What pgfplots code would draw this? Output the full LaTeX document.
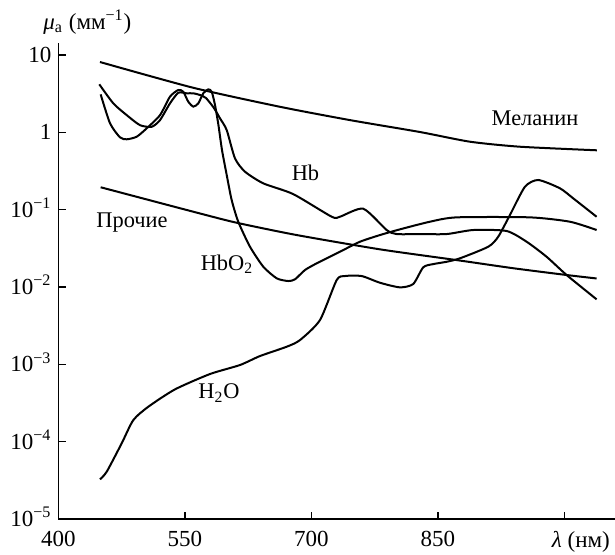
\documentclass[border=0pt]{standalone}
\usepackage{pgfplots}
\pgfplotsset{compat=1.18}
\usepackage{fontspec}
\setmainfont{Liberation Serif}
\pgfplotsset{curve/.style={black, line width=1pt, smooth, tension=0.4, mark=none}}
\tikzset{lbl/.style={font=\rmfamily\fontsize{11.2}{13}\selectfont, inner sep=0pt}}

\begin{document}
\begin{tikzpicture}
\begin{axis}[
  name=ax,
  at={(0,0)}, anchor=south west,
  scale only axis, width=278.25pt, height=238pt,
  xmin=400, xmax=1060,
  ymode=log, ymin=1e-5, ymax=14.3,
  axis lines*=left,
  axis line style={-, line width=0.8pt},
  tick align=inside,
  major tick length=3.75pt,
  tick style={line width=0.8pt, black},
  xtick={400,550,700,850,1000},
  xticklabels={400,550,700,850,\makebox[0pt][l]{\hspace*{-6.25pt}\textit{λ}~(нм)}},
  ytick={1e-5,1e-4,1e-3,1e-2,1e-1,1,10},
  yticklabels={10\textsuperscript{−5},10\textsuperscript{−4},10\textsuperscript{−3},10\textsuperscript{−2},10\textsuperscript{−1},1,10},
  yminorticks=false,
  /pgf/number format/assume math mode=true,
  ticklabel style={font=\rmfamily\fontsize{11.5}{13}\selectfont},
  xticklabel style={yshift=-2.5pt},
  yticklabel style={text height=7.6pt, text depth=0pt},
  clip=false,
]
% Melanin
\addplot[curve] coordinates {(449.2,8.12) (559.5,3.78) (662.7,2.14) (745.7,1.44) (828.7,1.01) (888,0.757) (947.2,0.652) (1038.6,0.586)};
% Others
\addplot[curve] coordinates {(450,0.195) (559.9,0.0941) (611.3,0.0678) (682.5,0.047) (781.3,0.0307) (872.2,0.0223) (939.3,0.0175) (1002.6,0.0143) (1038.2,0.0129)};
% Hb
\addplot[curve] coordinates {(448.4,4.18) (465.0,2.37) (480.9,1.67) (496.6,1.24) (510.5,1.18) (520.4,1.44) (532.2,2.37) (542.1,3.25) (552,3.20) (559.9,3.20) (567.8,3.04) (574.9,2.78) (584.4,2.06) (591.5,1.52) (599.5,1.07) (609.3,0.461) (621.2,0.310) (642.9,0.219) (678.4,0.159) (724,0.0811) (733.8,0.0811) (761.4,0.1029) (789.2,0.0546) (801.1,0.0484) (828.7,0.0484) (860.3,0.0484) (891.9,0.0546) (931.5,0.053) (955.2,0.0385) (978.9,0.0246) (1002.6,0.0143) (1038.2,0.00693)};
% HbO2
\addplot[curve] coordinates {(450.0,3.10) (461.1,1.31) (472.9,0.862) (480.9,0.813) (492.7,0.878) (504.6,1.127) (520.4,1.67) (532.2,2.89) (542.1,3.53) (548,3.35) (553.9,2.49) (559.9,2.15) (565.8,2.37) (571.7,3.20) (577.6,3.60) (581.7,3.35) (585.6,2.26) (589.7,1.24) (593.9,0.591) (599.5,0.281) (605.4,0.133) (613.2,0.0699) (627.1,0.0332) (642.9,0.0183) (658.8,0.01296) (672.5,0.01195) (680.5,0.01258) (692.3,0.01658) (706.2,0.02024) (733.8,0.0286) (757.5,0.0385) (781.3,0.047) (805,0.0557) (840.5,0.0699) (872.2,0.0796) (959.1,0.0796) (1006.5,0.0699) (1038.2,0.0546)};
% H2O
\addplot[curve] coordinates {(449.2,3.26e-5) (457.2,4.09e-5) (474.9,9.5e-5) (488.7,1.9e-4) (506.5,2.83e-4) (538.2,4.75e-4) (579.7,7.5e-4) (615.2,9.8e-4) (638.9,1.28e-3) (670.6,1.69e-3) (686.4,2.06e-3) (710.1,3.74e-3) (729.9,0.0123) (739.7,0.01387) (759.5,0.01387) (781.2,0.01136) (805,0.0099) (820.7,0.01094) (832.6,0.018) (844.5,0.0198) (860.3,0.0212) (876.1,0.0235) (909.7,0.0332) (921.5,0.0447) (935.4,0.0853) (953.2,0.198) (969,0.242) (994.7,0.189) (1010.5,0.140) (1038.2,0.081)};

\node[lbl] at (axis cs:965.1,1.53) {Меланин};
\node[lbl] at (axis cs:692.9,0.298) {Hb};
\node[lbl] at (axis cs:487.2,0.0692) {Прочие};
\node[lbl] at (axis cs:599.8,0.0198) {HbO\textsubscript{2}};
\node[lbl] at (axis cs:590.3,4.26e-4) {H\textsubscript{2}O};
\end{axis}
\node[font=\rmfamily\fontsize{11.5}{13}\selectfont, inner sep=0pt, anchor=west] at ([xshift=-7.75pt,yshift=10.5pt]ax.north west) {\textit{μ}\textsubscript{a} (мм\textsuperscript{−1})};
\pgfresetboundingbox
\path[use as bounding box] ([xshift=-29.25pt,yshift=-17.5pt]ax.south west) rectangle ([yshift=21.5pt]ax.north east);
\end{tikzpicture}
\end{document}
